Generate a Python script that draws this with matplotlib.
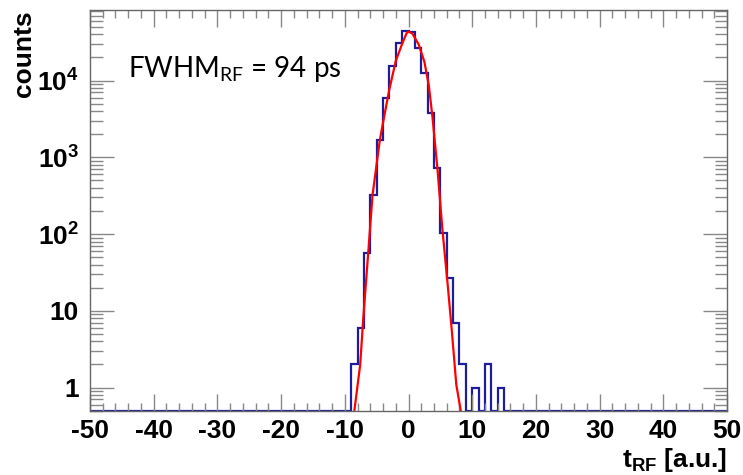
import numpy as np
import matplotlib
matplotlib.use("Agg")
import matplotlib.pyplot as plt
from matplotlib import font_manager
from matplotlib.ticker import FixedLocator, NullFormatter

# pick a condensed bold face if there is one (ROOT-like labels)
try:
    font_manager.findfont("Liberation Sans Narrow", fallback_to_default=False)
    lab_font = "Liberation Sans Narrow"
    lab_size = 21
except ValueError:
    lab_font = "Liberation Sans"
    lab_size = 19

plt.rcParams["mathtext.fontset"] = "custom"
plt.rcParams["mathtext.rm"] = lab_font + ":bold"
plt.rcParams["mathtext.bf"] = lab_font + ":bold"
plt.rcParams["mathtext.it"] = lab_font + ":bold"
plt.rcParams["mathtext.sf"] = "Lato"

# histogram, 1 a.u. bins from -50 to 50; only the filled bins listed
bin_lo = [-9, -8, -7, -6, -5, -4, -3, -2, -1, 0, 1, 2, 3, 4, 5, 6, 7, 8, 9, 10, 11, 12, 13, 14]
bin_counts = [2, 6, 56, 320, 1680, 6000, 15500, 30500, 44000, 43000, 26300, 12400,
              3800, 730, 102, 27, 7, 2, 0, 1, 0, 2, 0, 1]

# gaussian fit curve as drawn (x, counts)
fit_x = [-8.5, -7.58, -7.11, -6.33, -5.65, -4.5, -3.92, -3.03, -2.0, -0.94, -0.3, 0.0,
         0.6, 1.6, 2.5, 3.2, 3.77, 4.55, 5.3, 6.15, 6.8, 7.5, 8.2]
fit_y = [0.5, 2.0, 7.8, 56, 320, 1680, 3060, 7500, 18000, 31000, 41500, 43500,
         41000, 29500, 17500, 8500, 3300, 700, 120, 22, 5.5, 1.1, 0.5]

y_lo, y_hi = 0.5, 8.3e4

edges = np.arange(-50, 51)
counts = np.zeros(len(edges) - 1)
for lo, c in zip(bin_lo, bin_counts):
    counts[lo + 50] = c

fig = plt.figure(figsize=(7.43, 4.75), dpi=100)
ax = fig.add_axes([90 / 743, 1 - 410.7 / 475, 637 / 743, 400.7 / 475])

ax.stairs(np.maximum(counts, y_lo), edges, color="#1c1c9c", lw=1.6, baseline=None)
ax.plot(fit_x, np.maximum(fit_y, y_lo), color="red", lw=1.6)

ax.set_yscale("log")
ax.set_xlim(-50, 50)
ax.set_ylim(y_lo, y_hi)

ax.xaxis.set_major_locator(FixedLocator(np.arange(-50, 51, 10)))
ax.xaxis.set_minor_locator(FixedLocator(np.arange(-50, 51, 2)))
ax.set_xticklabels([str(v) for v in range(-50, 51, 10)])

ax.yaxis.set_major_locator(FixedLocator([1, 10, 100, 1000, 10000]))
ax.set_yticklabels(["1", "10", r"$10^2$", r"$10^3$", r"$10^4$"])
minors = [m * 10.0 ** d for d in range(-1, 5) for m in range(2, 10)]
ax.yaxis.set_minor_locator(FixedLocator(minors))
ax.yaxis.set_minor_formatter(NullFormatter())

for lab in ax.get_xticklabels() + ax.get_yticklabels():
    lab.set_fontfamily(lab_font)
    lab.set_fontweight("bold")
    lab.set_fontsize(lab_size)

ax.tick_params(axis="x", which="major", direction="in", length=12, width=1, color="#888888",
               top=True, pad=6)
ax.tick_params(axis="x", which="minor", direction="in", length=6, width=1, color="#888888", top=True)
ax.tick_params(axis="y", which="major", direction="in", length=17, width=1, color="#888888",
               right=True, pad=8)
ax.tick_params(axis="y", which="minor", direction="in", length=9, width=1, color="#888888", right=True)
for sp in ax.spines.values():
    sp.set_color("#666666")
    sp.set_linewidth(1)

fig.text(24 / 743, 1 - 10 / 475, "counts", rotation=90, ha="center", va="top",
         fontsize=lab_size, fontweight="bold", family=lab_font)
fig.text(727 / 743, 1 - 467 / 475, r"$\mathrm{t_{RF}}$ [a.u.]", ha="right", va="baseline",
         fontsize=lab_size, fontweight="bold", family=lab_font)
fig.text(128 / 743, 1 - 77 / 475, r"$\mathsf{FWHM_{RF}}$ = 94 ps", ha="left", va="baseline",
         fontsize=20, family="Lato")

fig.savefig("out.png", dpi=100)
